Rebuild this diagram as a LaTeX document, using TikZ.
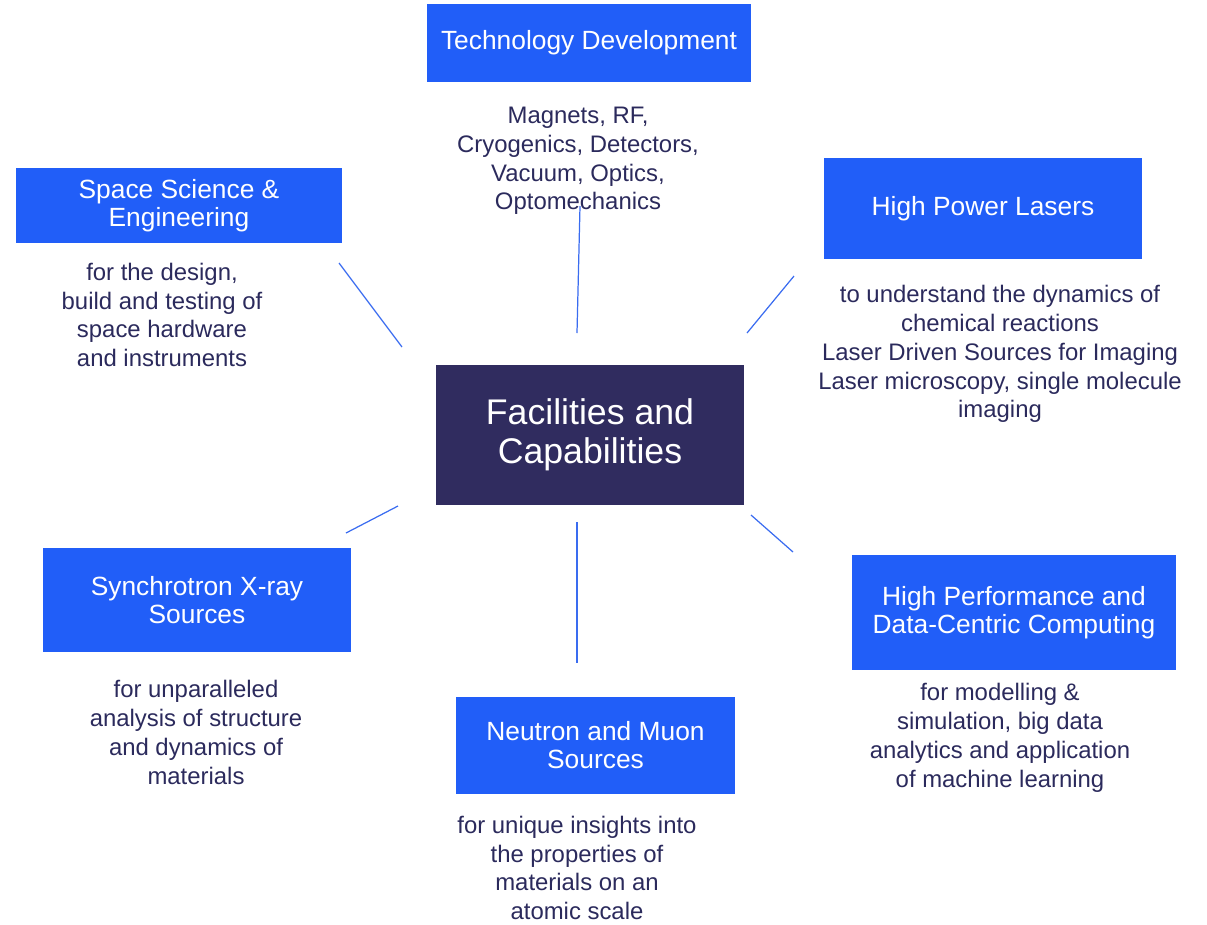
\documentclass[tikz,border=0pt]{standalone}
\usepackage{fontspec}
\setmainfont{Liberation Sans}
\usepackage{tikz}
\usetikzlibrary{positioning}

\definecolor{boxblue}{RGB}{33,94,248}
\definecolor{hubnavy}{RGB}{48,44,95}
\definecolor{descnavy}{RGB}{43,42,92}
\definecolor{spokeblue}{RGB}{58,108,240}

\tikzset{
  area/.style={draw=none, fill=boxblue, text=white, align=center, inner sep=0pt,
    font=\fontsize{15}{16}\selectfont},
  hub/.style={draw=none, fill=hubnavy, text=white, align=center, inner sep=0pt,
    font=\fontsize{20.3}{22.2}\selectfont},
  desc/.style={text=descnavy, align=center, inner sep=0pt,
    font=\fontsize{13.6}{16.4}\selectfont},
  spoke/.style={draw=spokeblue, line width=0.7pt}
}

\begin{document}
\begin{tikzpicture}[x=0.02cm, y=-0.02cm]
        \useasboundingbox (0,0) rectangle (1207,924);
        % Nodes
        \node (hub) [hub, minimum width=308*0.02cm, minimum height=140*0.02cm] at (590,435) {Facilities and\\Capabilities};
        \node (tech) [area, minimum width=324*0.02cm, minimum height=78*0.02cm] at (589,43) {Technology Development};
        \node (space) [area, minimum width=326*0.02cm, minimum height=75*0.02cm] at (179,205.5) {Space Science \&\\Engineering};
        \node (lasers) [area, minimum width=318*0.02cm, minimum height=101*0.02cm] at (983,208.5) {High Power Lasers};
        \node (sync) [area, minimum width=308*0.02cm, minimum height=104*0.02cm] at (197,600) {Synchrotron X-ray\\Sources};
        \node (neutron) [area, minimum width=279*0.02cm, minimum height=97*0.02cm] at (595.5,745.5) {Neutron and Muon\\Sources};
        \node (hpc) [area, minimum width=324*0.02cm, minimum height=115*0.02cm] at (1014,612.5) {High Performance and\\Data-Centric Computing};

        \node (techtxt) [desc] at (578,161) {Magnets, RF,\\Cryogenics, Detectors,\\Vacuum, Optics,\\Optomechanics};
        \node (spacetxt) [desc] at (162,315) {for the design,\\build and testing of\\space hardware\\and instruments};
        \node (laserstxt) [desc] at (1000,354) {to understand the dynamics of\\chemical reactions\\Laser Driven Sources for Imaging\\Laser microscopy, single molecule\\imaging};
        \node (synctxt) [desc] at (196,732.5) {for unparalleled\\analysis of structure\\and dynamics of\\materials};
        \node (hpctxt) [desc] at (1000,738) {for modelling \&\\simulation, big data\\analytics and application\\of machine learning};
        \node (neutrontxt) [desc] at (577,868) {for unique insights into\\the properties of\\materials on an\\atomic scale};

        % Spoke ends
        \coordinate (t1) at (580,206);  \coordinate (t2) at (577,333);
        \coordinate (s1) at (339,263);  \coordinate (s2) at (402,347);
        \coordinate (l1) at (794,276);  \coordinate (l2) at (747,333);
        \coordinate (y1) at (346,533);  \coordinate (y2) at (398,506);
        \coordinate (n1) at (577,522);  \coordinate (n2) at (577,663);
        \coordinate (h1) at (751,515);  \coordinate (h2) at (793,552);

        % Edges
        \draw[spoke] (t1) -- (t2);
        \draw[spoke] (s1) -- (s2);
        \draw[spoke] (l1) -- (l2);
        \draw[spoke] (y1) -- (y2);
        \draw[spoke] (n1) -- (n2);
        \draw[spoke] (h1) -- (h2);
    \end{tikzpicture}
\end{document}
